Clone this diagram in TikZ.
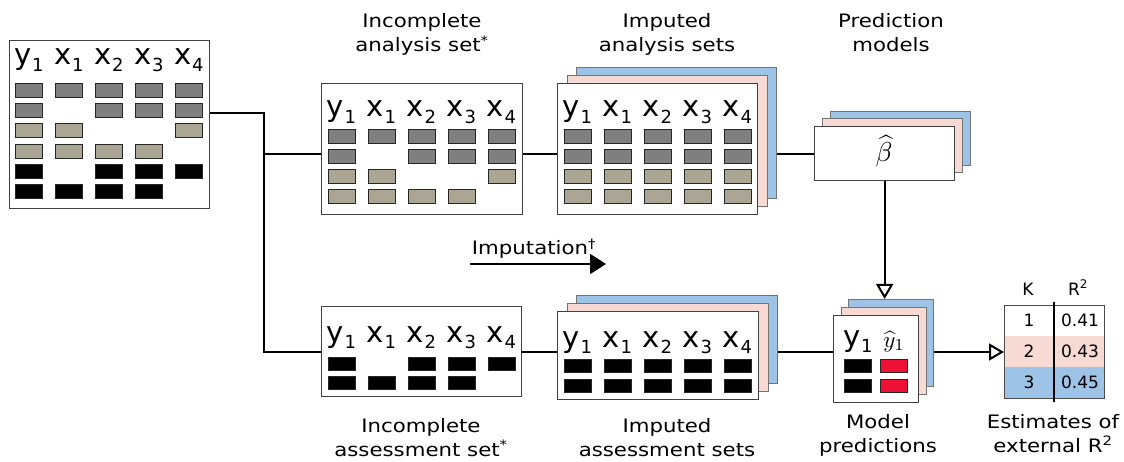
\documentclass[tikz,border=0pt]{standalone}
\usepackage{graphicx}
\usepackage[no-math]{fontspec}
\setmainfont{DejaVu Sans}
\newfontfamily\lblfont{DejaVu Sans}[FakeStretch=1.15]
\usetikzlibrary{arrows.meta}
\definecolor{cgray}{HTML}{7F7F7F}
\definecolor{ctan}{HTML}{ABA694}
\definecolor{cpink}{HTML}{F8DAD4}
\definecolor{cblue}{HTML}{9DC3E6}
\definecolor{cred}{HTML}{EE1133}
\definecolor{cedge}{HTML}{404040}
\newcommand{\vv}[2]{#1\kern0.5pt\raisebox{-6.5pt}{\fontsize{18}{18}\selectfont #2}}
\newcommand{\cells}[5]{\foreach \c/\f in {#5}{\path[cellst, fill=\f] ({#1+(\c-1)*#2-13.5},#3) rectangle ++(27,#4);}}
\pgfdeclarelayer{bg}
\pgfsetlayers{bg,main}
\tikzset{
  conn/.style={line width=2pt, black},
  panel/.style={draw=cedge, line width=1.3pt, fill=white, anchor=north west, inner sep=0pt},
  layerpink/.style={panel, draw=black!55, line width=1pt, fill=cpink},
  layerblue/.style={panel, draw=black!55, line width=1pt, fill=cblue},
  hdr/.style={font=\fontsize{29}{34}\selectfont, anchor=base, inner sep=0pt},
  lbl/.style={font=\lblfont\fontsize{18.5}{24}\selectfont, align=center, anchor=base, inner sep=0pt},
  tbl/.style={font=\fontsize{17}{20}\selectfont, inner sep=0pt},
  cellst/.style={draw=black!85, line width=1pt},
  opentip/.style={-{Triangle[open, length=15pt, width=17pt]}},
}
\begin{document}
\begin{tikzpicture}[x=1pt,y=-1pt]
\useasboundingbox (0,0) rectangle (1124,462);

% ---------- coordinates for junctions ----------
\coordinate (jA) at (264,113);
\coordinate (jB) at (264,154);
\coordinate (jC) at (264,352);
\coordinate (imA) at (470,264);
\coordinate (imB) at (606,264);
\coordinate (dv1) at (1054,302);
\coordinate (dv2) at (1054,402);

% ---------- full data set ----------
\node[panel, minimum width=200pt, minimum height=168pt] (L) at (9,40) {};
\foreach \c/\t/\n in {1/y/1,2/x/1,3/x/2,4/x/3,5/x/4}
  \node[hdr] (Lh\c) at ({29+(\c-1)*40},65) {\vv{\t}{\n}};
\cells{29}{40}{84}{14}{1/cgray,2/cgray,3/cgray,4/cgray,5/cgray}
\cells{29}{40}{104}{14}{1/cgray,3/cgray,4/cgray,5/cgray}
\cells{29}{40}{124}{14}{1/ctan,2/ctan,5/ctan}
\cells{29}{40}{145}{14}{1/ctan,2/ctan,3/ctan,4/ctan}
\cells{29}{40}{165}{14}{1/black,3/black,4/black,5/black}
\cells{29}{40}{185}{14}{1/black,2/black,3/black,4/black}

% ---------- incomplete analysis set ----------
\node[panel, minimum width=201pt, minimum height=131pt] (A) at (321,83) {};
\foreach \c/\t/\n in {1/y/1,2/x/1,3/x/2,4/x/3,5/x/4}
  \node[hdr] (Ah\c) at ({341.5+(\c-1)*40},117) {\vv{\t}{\n}};
\cells{341.5}{40}{130}{14}{1/cgray,2/cgray,3/cgray,4/cgray,5/cgray}
\cells{341.5}{40}{150}{14}{1/cgray,3/cgray,4/cgray,5/cgray}
\cells{341.5}{40}{170}{14}{1/ctan,2/ctan,5/ctan}
\cells{341.5}{40}{190}{14}{1/ctan,2/ctan,3/ctan,4/ctan}

% ---------- imputed analysis sets ----------
\node[layerblue, minimum width=200pt, minimum height=131pt] (IAb) at (576,67) {};
\node[layerpink, minimum width=200pt, minimum height=131pt] (IAp) at (566.5,75) {};
\node[panel, minimum width=200pt, minimum height=131pt] (IA) at (557,83) {};
\foreach \c/\t/\n in {1/y/1,2/x/1,3/x/2,4/x/3,5/x/4}
  \node[hdr] (IAh\c) at ({577.5+(\c-1)*40},117) {\vv{\t}{\n}};
\cells{577.5}{40}{130}{14}{1/cgray,2/cgray,3/cgray,4/cgray,5/cgray}
\cells{577.5}{40}{150}{14}{1/cgray,2/cgray,3/cgray,4/cgray,5/cgray}
\cells{577.5}{40}{170}{14}{1/ctan,2/ctan,3/ctan,4/ctan,5/ctan}
\cells{577.5}{40}{190}{14}{1/ctan,2/ctan,3/ctan,4/ctan,5/ctan}

% ---------- prediction models ----------
\node[layerblue, minimum width=140pt, minimum height=54pt] (Pb) at (830,111) {};
\node[layerpink, minimum width=140pt, minimum height=54pt] (Pp) at (822,118.5) {};
\node[panel, minimum width=140pt, minimum height=54pt] (P) at (814,126) {};
\node[font=\fontsize{11}{13}\selectfont, inner sep=0pt] (beta) at (884,151) {\scalebox{2.5}{$\widehat{\beta}$}};

% ---------- incomplete assessment set ----------
\node[panel, minimum width=200pt, minimum height=90pt] (B) at (321,306) {};
\foreach \c/\t/\n in {1/y/1,2/x/1,3/x/2,4/x/3,5/x/4}
  \node[hdr] (Bh\c) at ({341.5+(\c-1)*40},342) {\vv{\t}{\n}};
\cells{341.5}{40}{357}{13}{1/black,3/black,4/black,5/black}
\cells{341.5}{40}{376}{13}{1/black,2/black,3/black,4/black}

% ---------- imputed assessment sets ----------
\node[layerblue, minimum width=201pt, minimum height=88pt] (IBb) at (576,295) {};
\node[layerpink, minimum width=201pt, minimum height=88pt] (IBp) at (566.5,303) {};
\node[panel, minimum width=201pt, minimum height=88pt] (IB) at (557,311) {};
\foreach \c/\t/\n in {1/y/1,2/x/1,3/x/2,4/x/3,5/x/4}
  \node[hdr] (IBh\c) at ({577.5+(\c-1)*40},347) {\vv{\t}{\n}};
\cells{577.5}{40}{359}{13}{1/black,2/black,3/black,4/black,5/black}
\cells{577.5}{40}{379}{13}{1/black,2/black,3/black,4/black,5/black}

% ---------- model predictions ----------
\node[layerblue, minimum width=85pt, minimum height=87pt] (MPb) at (848,299) {};
\node[layerpink, minimum width=85pt, minimum height=87pt] (MPp) at (840.5,307) {};
\node[panel, minimum width=85pt, minimum height=87pt] (MP) at (833,315) {};
\node[hdr] (MPh1) at (858,346) {\vv{y}{1}};
\node[font=\fontsize{11}{13}\selectfont, anchor=base, inner sep=0pt] (MPh2) at (894,347) {\scalebox{2.1}{$\widehat{y}_1$}};
\cells{858}{36}{359}{13}{1/black,2/cred}
\cells{858}{36}{379}{13}{1/black,2/cred}

% ---------- R^2 table ----------
\fill[white] (1004,305) rectangle (1104,336);
\fill[cpink] (1004,336) rectangle (1104,367);
\fill[cblue] (1004,367) rectangle (1104,398);
\node[draw=black!70, line width=1pt, minimum width=100pt, minimum height=93pt, anchor=north west, inner sep=0pt] (T) at (1004,305) {};
\draw[line width=1.5pt] (dv1) -- (dv2);
\node[tbl, anchor=base] (TK) at (1028,295) {K};
\node[tbl, anchor=base] (TR) at (1078,295) {R\textsuperscript{2}};
\node[tbl] (T1a) at (1029,320.5) {1};
\node[tbl] (T1b) at (1080,320.5) {0.41};
\node[tbl] (T2a) at (1029,351.5) {2};
\node[tbl] (T2b) at (1080,351.5) {0.43};
\node[tbl] (T3a) at (1029,382.5) {3};
\node[tbl] (T3b) at (1080,382.5) {0.45};

% ---------- labels (anchored at the baseline of the last line) ----------
\node[lbl] (lA) at (422,52) {Incomplete\\analysis set\textsuperscript{*}};
\node[lbl] (lIA) at (667,52) {Imputed\\analysis sets};
\node[lbl] (lP) at (891,52) {Prediction\\models};
\node[lbl] (lImp) at (534,255) {Imputation\textsuperscript{†}};
\node[lbl] (lB) at (421,456) {Incomplete\\assessment set\textsuperscript{*}};
\node[lbl] (lIB) at (667,456) {Imputed\\assessment sets};
\node[lbl] (lMP) at (878,452) {Model\\predictions};
\node[lbl] (lT) at (1053,452) {Estimates of\\external R\textsuperscript{2}};

% ---------- connectors ----------
\begin{pgfonlayer}{bg}
\draw[conn] (L.east |- jA) -- (jA) -- (jC) -- (B.west |- jC);
\draw[conn] (jB) -- (A.west |- jB);
\draw[conn] (A.east |- jB) -- (P.west |- jB);
\draw[conn, opentip] (P.south) -- (P.south |- MPb.north);
\draw[conn] (B.east |- jC) -- (MP.west |- jC);
\draw[conn, opentip] (MP.east |- jC) -- (T.west |- jC);
\draw[conn, -{Triangle[length=16pt, width=20pt]}] (imA) -- (imB);
\end{pgfonlayer}
\end{tikzpicture}
\end{document}
